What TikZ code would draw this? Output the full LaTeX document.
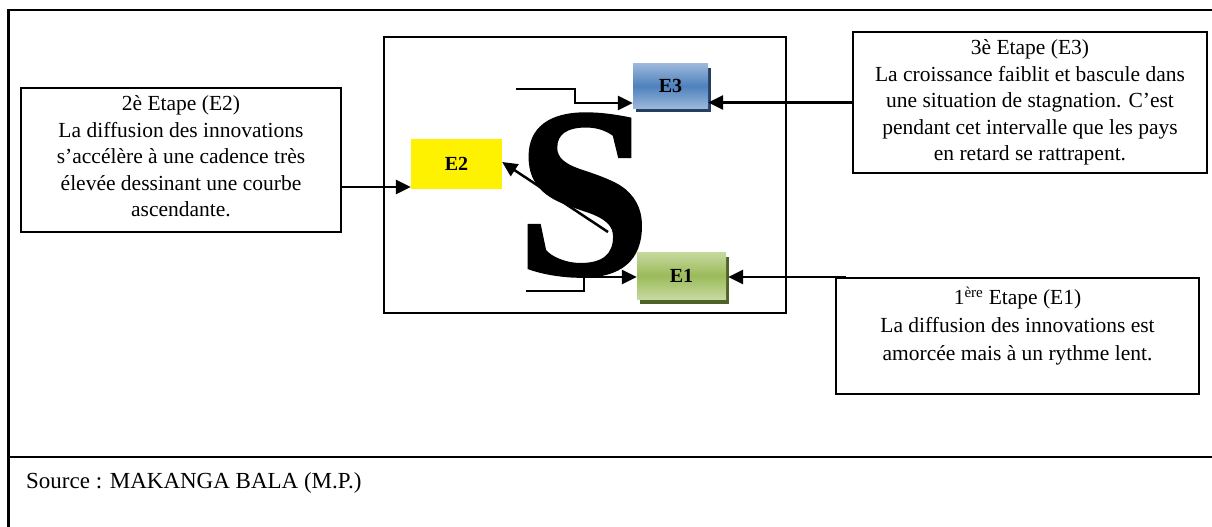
\documentclass[tikz,border=0pt]{standalone}
\usepackage{fontspec}
\setmainfont{Liberation Serif}
\newfontfamily\bigSfont[FakeBold=1.2]{Liberation Serif Bold}
\usetikzlibrary{arrows.meta,shadows}
\definecolor{eblueL}{HTML}{9AB7DA}
\definecolor{eblueD}{HTML}{4F81BD}
\definecolor{eblueS}{HTML}{243F60}
\definecolor{egreenL}{HTML}{C6D9A0}
\definecolor{egreenD}{HTML}{9BBB59}
\definecolor{egreenS}{HTML}{4F6228}
\tikzset{
  frame/.style={line width=2pt},
  txtbox/.style={draw, line width=2pt, inner sep=0pt, align=center,
    font=\fontsize{21.5}{26}\selectfont},
  stage/.style={inner sep=0pt, font=\fontsize{20}{24}\selectfont\bfseries},
  arr/.style={line width=2.5pt, -{Triangle[length=15pt,width=14pt]}},
  plain/.style={line width=2.5pt}
}
\begin{document}
\begin{tikzpicture}[x=1pt,y=-1pt]
\useasboundingbox (0,0) rectangle (1212,527);
% outer frame
\draw[frame] (1212,10) -- (8,10);
\draw[line width=3pt] (8,9) -- (8,527);
\draw[frame] (8,457) -- (1212,457);
\node[anchor=west, inner sep=0pt, font=\fontsize{23}{27}\selectfont] (src) at (26,483) {Source : MAKANGA BALA (M.P.)};
% main box
\node[draw, line width=2pt, minimum width=402pt, minimum height=276pt, inner sep=0pt] (main) at (584.5,175) {};
% big S
\node[anchor=base west, inner sep=0pt, font=\fontsize{242}{242}\bigSfont] (S) at (516,274) {S};
% stage boxes
\node[stage, minimum width=75pt, minimum height=44pt,
  top color=eblueL, bottom color=eblueL, middle color=eblueD,
  drop shadow={shadow xshift=3pt, shadow yshift=-4pt, fill=eblueS, opacity=1}] (E3) at (670.5,86) {E3};
\node[stage, minimum width=91pt, minimum height=50pt, fill=yellow] (E2) at (456.5,164) {E2};
\node[stage, minimum width=89pt, minimum height=47pt,
  top color=egreenL, bottom color=egreenL, middle color=egreenD,
  drop shadow={shadow xshift=3pt, shadow yshift=-5pt, fill=egreenS, opacity=1}] (E1) at (681.5,275.5) {E1};
% text boxes
\node[txtbox, minimum width=320pt, minimum height=144pt] (t2) at (181,160) {};
\node[align=center, inner sep=0pt, font=\fontsize{21.5}{26.5}\selectfont] (t2txt) at (181,156.5) {2è Etape (E2)\\La diffusion des innovations\\s’accélère à une cadence très\\élevée dessinant une courbe\\ascendante.};
\node[txtbox, minimum width=354pt, minimum height=141pt] (t3) at (1030,102.5) {};
\node[align=center, inner sep=0pt, font=\fontsize{21.5}{26.5}\selectfont] (t3txt) at (1030,102.5) {3è Etape (E3)\\La croissance faiblit et bascule dans\\une situation de stagnation. C’est\\pendant cet intervalle que les pays\\en retard se rattrapent.};
\node[txtbox, minimum width=363pt, minimum height=116pt] (t1) at (1017.5,336) {};
\node[align=center, inner sep=0pt, font=\fontsize{21.5}{28}\selectfont] (t1txt) at (1017.5,326) {1\textsuperscript{ère} Etape (E1)\\La diffusion des innovations est\\amorcée mais à un rythme lent.};
% connectors
\coordinate (s3) at (516,89);
\coordinate (e3in) at ([yshift=-17pt]E3.west);
\draw[arr] (s3) -- (575,89) |- (e3in);
\draw[arr] (t3.west) -- (t3.west -| E3.east);
\coordinate (a2) at ([yshift=-27pt]t2.east);
\draw[arr] (a2) -- (a2 -| E2.west);
\coordinate (d2) at (608,232);
\draw[arr] (d2) -- ([yshift=2pt]E2.east);
\coordinate (s1) at (526,291);
\draw[arr] (s1) -- (584,291) |- ([yshift=-1.5pt]E1.west);
\coordinate (c1) at ([xshift=11pt]t1.north west);
\draw[arr] (c1) -- ([xshift=2pt]c1 -| E1.east);
\end{tikzpicture}
\end{document}
